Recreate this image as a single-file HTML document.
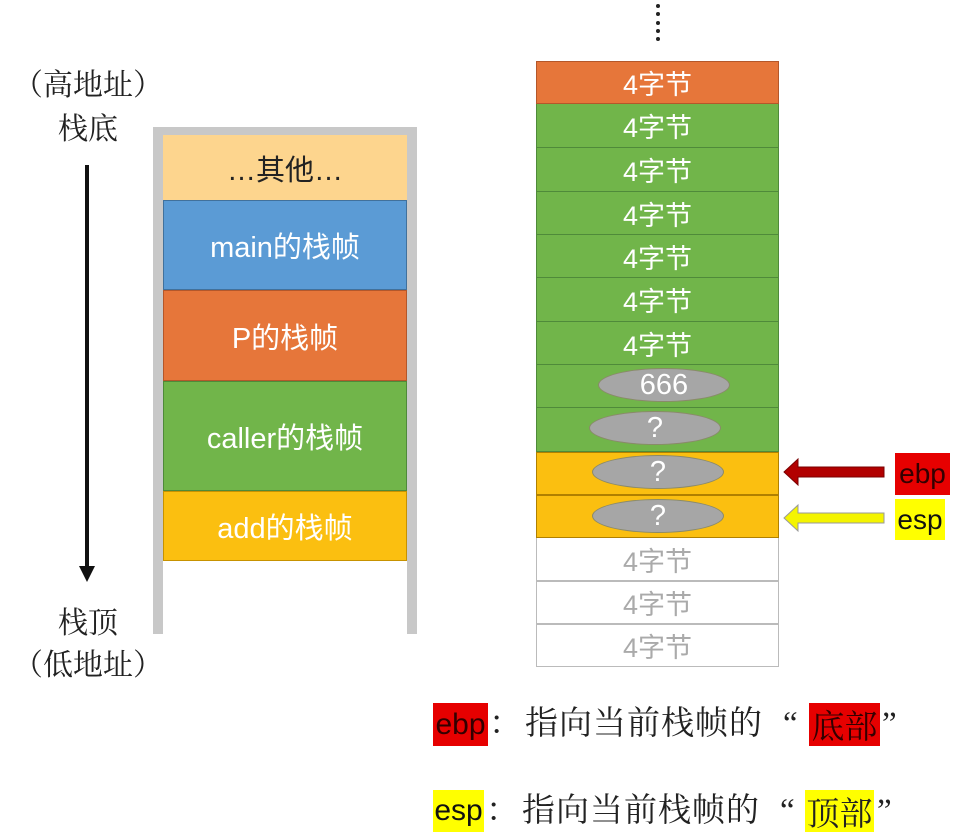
<!DOCTYPE html>
<html><head><meta charset="utf-8"><style>
body{margin:0;width:966px;height:838px;background:#fff;position:relative;overflow:hidden;font-family:"Liberation Sans","Noto Sans CJK SC",sans-serif}
.a{position:absolute}
.c{position:absolute;display:flex;align-items:center;justify-content:center;box-sizing:border-box}
.l{left:163px;width:244px;font-size:29px;color:#fff}
.r{left:536px;width:243px;font-size:27px;color:#fff;border:1px solid #4f8a3a;border-top:none}
.g{background:#71b54a}
.dot{position:absolute;left:656px;width:4px;height:4px;border-radius:50%;background:#222}
.el{position:absolute;width:132px;height:34px;border-radius:50%;background:#a6a6a6;border:1px solid #8a8a6a;color:#fff;font-size:29px;display:flex;align-items:center;justify-content:center;box-sizing:border-box}
.t{font-family:"Liberation Serif","Noto Serif CJK SC",serif;font-size:30px;color:#222}
.b{font-family:"Liberation Serif","Noto Serif CJK SC",serif;font-size:33px;color:#222;position:absolute;white-space:nowrap;line-height:43px}
.bx{position:absolute;display:flex;align-items:center;justify-content:center;box-sizing:border-box}
</style></head><body>
<div class="dot" style="top:4px"></div><div class="dot" style="top:12px"></div><div class="dot" style="top:21px"></div><div class="dot" style="top:29px"></div><div class="dot" style="top:37px"></div>

<div class="a t" style="left:8px;top:60px;width:160px;text-align:center">（高地址）</div>
<div class="a t" style="left:8px;top:104px;width:160px;text-align:center">栈底</div>
<div class="a" style="left:85px;top:165px;width:4px;height:405px;background:#111"></div>
<div class="a" style="left:79px;top:566px;width:0;height:0;border-left:8px solid transparent;border-right:8px solid transparent;border-top:16px solid #111"></div>
<div class="a t" style="left:8px;top:598px;width:160px;text-align:center">栈顶</div>
<div class="a t" style="left:8px;top:640px;width:160px;text-align:center">（低地址）</div>

<div class="a" style="left:153px;top:127px;width:264px;height:8px;background:#c8c8c8"></div>
<div class="a" style="left:153px;top:127px;width:10px;height:507px;background:#c8c8c8"></div>
<div class="a" style="left:407px;top:127px;width:10px;height:507px;background:#c8c8c8"></div>
<div class="c l" style="top:135px;height:65px;background:#fdd58e;color:#222">…其他…</div>
<div class="c l" style="top:200px;height:90px;background:#5b9bd5;border:1px solid #41719c">main的栈帧</div>
<div class="c l" style="top:290px;height:91px;background:#e6763a;border:1px solid #b4572a">P的栈帧</div>
<div class="c l" style="top:381px;height:110px;background:#71b54a;border:1px solid #4f8a3a">caller的栈帧</div>
<div class="c l" style="top:491px;height:70px;background:#fbbf10;border:1px solid #c79200">add的栈帧</div>

<div class="c r" style="top:61px;height:43px;background:#e6763a;border:1px solid #b4572a">4字节</div>
<div class="c r g" style="top:104px;height:44px">4字节</div>
<div class="c r g" style="top:148px;height:44px">4字节</div>
<div class="c r g" style="top:192px;height:43px">4字节</div>
<div class="c r g" style="top:235px;height:43px">4字节</div>
<div class="c r g" style="top:278px;height:44px">4字节</div>
<div class="c r g" style="top:322px;height:43px">4字节</div>
<div class="c r g" style="top:365px;height:43px"></div>
<div class="c r g" style="top:408px;height:44px"></div>
<div class="c r" style="top:452px;height:43px;background:#fbbf10;border-color:#b08000;border-top:1px solid #b08000"></div>
<div class="c r" style="top:495px;height:43px;background:#fbbf10;border-color:#b08000;border-top:1px solid #b08000"></div>
<div class="c r" style="top:538px;height:43px;background:#fff;color:#aaa;border-color:#bbb">4字节</div>
<div class="c r" style="top:581px;height:43px;background:#fff;color:#aaa;border-color:#bbb;border-top:1px solid #bbb">4字节</div>
<div class="c r" style="top:624px;height:43px;background:#fff;color:#aaa;border-color:#bbb;border-top:1px solid #bbb">4字节</div>

<div class="el" style="left:598px;top:368px">666</div>
<div class="el" style="left:589px;top:411px">?</div>
<div class="el" style="left:592px;top:455px">?</div>
<div class="el" style="left:592px;top:499px">?</div>

<svg class="a" style="left:780px;top:455px" width="110" height="80">
<polygon points="4,17 18,4 18,12 104,12 104,22 18,22 18,30" fill="#b20000" stroke="#7a0000" stroke-width="1"/>
<polygon points="4,63 18,50 18,58 104,58 104,68 18,68 18,76" fill="#f4f400" stroke="#999" stroke-width="1"/>
</svg>
<div class="a" style="left:895px;top:453px;width:55px;height:42px;background:#e60000;font-size:28px;color:#300;line-height:42px;text-align:center">ebp</div>
<div class="a" style="left:895px;top:499px;width:50px;height:41px;background:#ffff00;font-size:28px;color:#111;line-height:41px;text-align:center">esp</div>

<div class="bx" style="left:433px;top:703px;width:55px;height:43px;background:#e60000;font-size:30px;color:#300">ebp</div>
<div class="b" style="left:489px;top:703px">：</div>
<div class="b" style="left:525px;top:703px;letter-spacing:1px">指向当前栈帧的</div>
<div class="b" style="left:783px;top:703px">“</div>
<div class="bx" style="left:809px;top:703px;width:71px;height:43px;background:#e60000;font-family:'Liberation Serif','Noto Serif CJK SC',serif;font-size:33px;color:#300">底部</div>
<div class="b" style="left:882px;top:703px">”</div>

<div class="bx" style="left:433px;top:790px;width:51px;height:42px;background:#ffff00;font-size:30px;color:#111">esp</div>
<div class="b" style="left:486px;top:790px">：</div>
<div class="b" style="left:522px;top:790px;letter-spacing:1px">指向当前栈帧的</div>
<div class="b" style="left:780px;top:790px">“</div>
<div class="bx" style="left:805px;top:790px;width:69px;height:42px;background:#ffff00;font-family:'Liberation Serif','Noto Serif CJK SC',serif;font-size:33px;color:#222">顶部</div>
<div class="b" style="left:877px;top:790px">”</div>
</body></html>
